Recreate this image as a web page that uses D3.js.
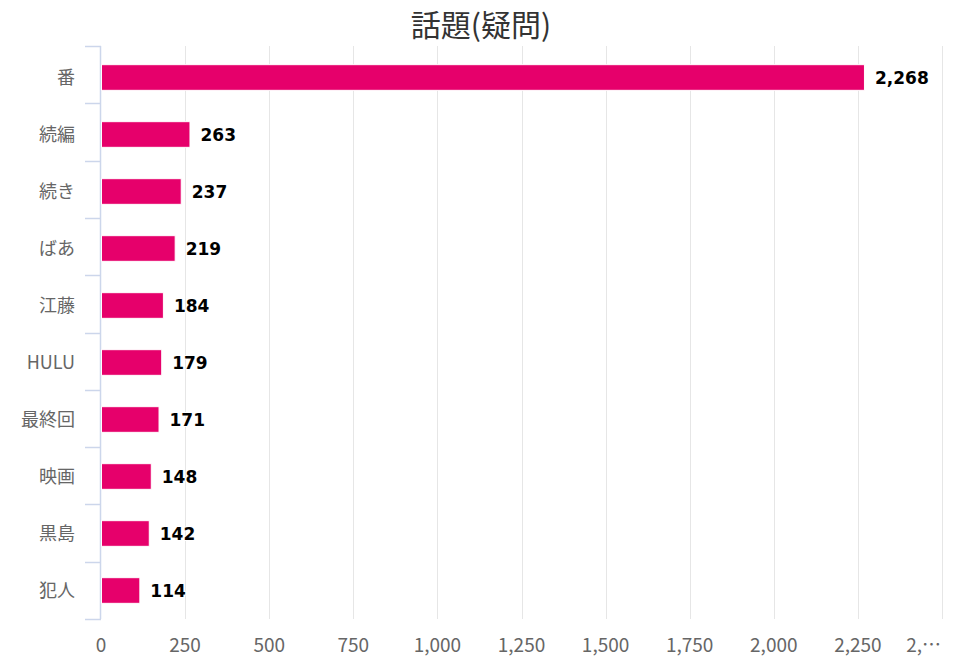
<!DOCTYPE html>
<html><head><meta charset="utf-8">
<script src="https://cdn.jsdelivr.net/npm/d3@7"></script>
<style>body{margin:0;background:#fff;} svg{display:block;}</style>
</head><body>
<svg id="chart" width="958" height="670"></svg>
<script>
const categories = ["番","続編","続き","ばあ","江藤","HULU","最終回","映画","黒島","犯人"];
const values = [2268,263,237,219,184,179,171,148,142,114];
const tickValues = [0,250,500,750,1000,1250,1500,1750,2000,2250,2500];
const tickLabels = ["0","250","500","750","1,000","1,250","1,500","1,750","2,000","2,250","2,…"];
const title = "話題(疑問)";

const svg = d3.select("#chart");
const font = "'Noto Sans CJK JP','Noto Sans',sans-serif";
const x = d3.scaleLinear().domain([0,2500]).range([101,942]);
const y = d3.scaleBand().domain(categories).range([49,619]).paddingInner(0.55).paddingOuter(0.275);
const yb = d3.scaleBand().domain(categories).range([49,619]);
const yt = d3.scaleBand().domain(categories).range([46,619]);

svg.append("text").attr("x",481).attr("y",36).attr("text-anchor","middle")
  .attr("font-family",font).attr("font-size",30).attr("fill","#333").text(title);

// grid
svg.append("g").selectAll("line").data(tickValues.slice(1)).join("line")
  .attr("x1",d=>Math.round(x(d))+0.5).attr("x2",d=>Math.round(x(d))+0.5)
  .attr("y1",46).attr("y2",619).attr("stroke","#e6e6e6").attr("stroke-width",1);

// x tick labels
svg.append("g").selectAll("text").data(tickValues).join("text")
  .attr("x",(d,i)=>i===tickValues.length-1 ? 941 : x(d))
  .attr("y",652)
  .attr("text-anchor",(d,i)=>i===tickValues.length-1 ? "end" : "middle")
  .attr("font-family",font).attr("font-size",19).attr("fill","#666")
  .text((d,i)=>tickLabels[i]);

// y axis line + ticks
const ax = svg.append("g").attr("stroke","#ccd6eb").attr("stroke-width",1.5);
ax.append("line").attr("x1",100.5).attr("x2",100.5).attr("y1",46).attr("y2",619);
const bounds = categories.map(c=>yt(c)).concat([619]);
ax.selectAll("line.t").data(bounds).join("line").attr("class","t")
  .attr("x1",85).attr("x2",101).attr("y1",d=>Math.round(d)+0.5).attr("y2",d=>Math.round(d)+0.5);

// category labels
svg.append("g").selectAll("text").data(categories).join("text")
  .attr("x",75).attr("y",c=>yb(c)+yb.bandwidth()/2).attr("dy","0.35em").attr("text-anchor","end")
  .attr("font-family",font).attr("font-size",18).attr("fill","#666").text(c=>c);

// bars
svg.append("g").selectAll("rect").data(values).join("rect")
  .attr("x",x(0)+0.5).attr("y",(d,i)=>y(categories[i]))
  .attr("width",d=>x(d)-x(0)).attr("height",y.bandwidth())
  .attr("fill","#e6006b").attr("stroke","#ffffff").attr("stroke-width",1);

// data labels
svg.append("g").selectAll("text").data(values).join("text")
  .attr("x",d=>x(d)+11).attr("y",(d,i)=>yb(categories[i])+yb.bandwidth()/2).attr("dy","0.36em")
  .attr("font-family","'DejaVu Sans',sans-serif").attr("font-weight","bold").attr("font-size",17)
  .attr("fill","#000").attr("stroke","#fff").attr("stroke-width",2).attr("paint-order","stroke")
  .attr("stroke-linejoin","round")
  .text(d=>d3.format(",")(d));
</script>
</body></html>
